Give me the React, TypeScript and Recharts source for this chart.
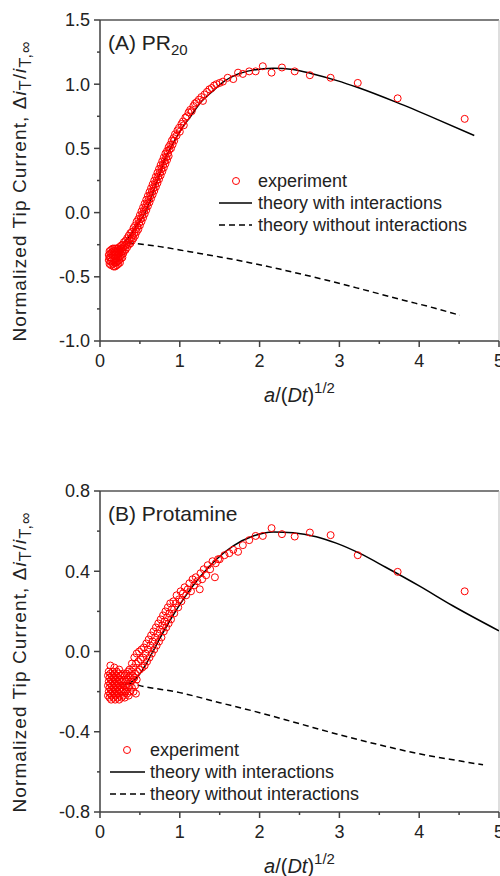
import React from 'react'
import { ComposedChart, Scatter, Line, XAxis, YAxis, Legend, ReferenceLine } from 'recharts'

type Pt = [number, number]

// axis ticks (majors get a label, the rest are minor ticks)
const xTicks = [0, 0.5, 1, 1.5, 2, 2.5, 3, 3.5, 4, 4.5, 5]
const xMajor = [0, 1, 2, 3, 4, 5]
const yTicksA = [-1, -0.75, -0.5, -0.25, 0, 0.25, 0.5, 0.75, 1, 1.25, 1.5]
const yMajorA = [-1, -0.5, 0, 0.5, 1, 1.5]
const yTicksB = [-0.8, -0.6, -0.4, -0.2, 0, 0.2, 0.4, 0.6, 0.8]
const yMajorB = [-0.8, -0.4, 0, 0.4, 0.8]

const legendLabels = ['experiment', 'theory with interactions', 'theory without interactions']

// (A) PR20
const expA: Pt[] = [
  // dense cloud at small a/(Dt)^1/2
  [0.11, -0.33], [0.11, -0.37], [0.12, -0.30], [0.12, -0.35], [0.12, -0.40], [0.13, -0.32], [0.13, -0.38],
  [0.14, -0.29], [0.14, -0.35], [0.14, -0.41], [0.15, -0.31], [0.15, -0.37], [0.16, -0.28], [0.16, -0.33],
  [0.16, -0.40], [0.17, -0.30], [0.17, -0.36], [0.17, -0.42], [0.18, -0.28], [0.18, -0.33], [0.18, -0.39],
  [0.19, -0.30], [0.19, -0.36], [0.19, -0.42], [0.20, -0.28], [0.20, -0.33], [0.20, -0.39], [0.21, -0.30],
  [0.21, -0.36], [0.21, -0.41], [0.22, -0.28], [0.22, -0.33], [0.22, -0.38], [0.23, -0.30], [0.23, -0.35],
  [0.23, -0.40], [0.24, -0.27], [0.24, -0.32], [0.24, -0.37], [0.25, -0.29], [0.25, -0.34], [0.25, -0.39],
  [0.26, -0.26], [0.26, -0.31], [0.26, -0.36], [0.27, -0.28], [0.27, -0.33], [0.28, -0.25], [0.28, -0.30],
  [0.28, -0.35], [0.29, -0.27], [0.29, -0.32],
  // rising band
  [0.30, -0.23], [0.30, -0.30], [0.31, -0.26], [0.32, -0.22], [0.32, -0.29], [0.33, -0.25], [0.34, -0.20],
  [0.34, -0.27], [0.35, -0.23], [0.36, -0.18], [0.36, -0.25], [0.37, -0.21], [0.38, -0.16], [0.38, -0.24],
  [0.39, -0.20], [0.40, -0.15], [0.40, -0.22], [0.41, -0.18], [0.42, -0.12], [0.42, -0.20], [0.43, -0.16],
  [0.44, -0.10], [0.44, -0.18], [0.45, -0.13], [0.46, -0.07], [0.46, -0.15], [0.47, -0.11], [0.48, -0.05],
  [0.48, -0.13], [0.49, -0.08], [0.50, -0.02], [0.50, -0.10], [0.51, -0.05], [0.52, 0.01], [0.52, -0.07],
  [0.53, -0.02], [0.54, 0.04], [0.54, -0.04], [0.55, 0.01], [0.56, 0.07], [0.56, -0.01], [0.57, 0.04],
  [0.58, 0.10], [0.58, 0.02], [0.59, 0.07], [0.60, 0.13], [0.60, 0.05], [0.61, 0.10], [0.62, 0.16],
  [0.62, 0.08], [0.63, 0.13], [0.64, 0.19], [0.64, 0.11], [0.65, 0.16], [0.66, 0.22], [0.66, 0.14],
  [0.67, 0.19], [0.68, 0.25], [0.68, 0.17], [0.69, 0.22], [0.70, 0.28], [0.70, 0.20], [0.71, 0.25],
  [0.72, 0.31], [0.72, 0.23], [0.73, 0.28], [0.74, 0.34], [0.74, 0.26], [0.75, 0.31], [0.76, 0.37],
  [0.76, 0.29], [0.77, 0.34], [0.78, 0.40], [0.78, 0.32], [0.79, 0.37], [0.80, 0.43], [0.80, 0.35],
  [0.81, 0.40], [0.82, 0.46], [0.82, 0.38], [0.83, 0.43], [0.84, 0.48], [0.84, 0.41], [0.85, 0.46],
  [0.86, 0.51], [0.86, 0.44], [0.87, 0.49], [0.88, 0.53], [0.89, 0.50], [0.90, 0.56], [0.91, 0.53],
  [0.92, 0.58], [0.93, 0.56], [0.94, 0.61], [0.96, 0.60], [0.97, 0.64], [0.99, 0.66], [1.00, 0.63],
  [1.02, 0.69], [1.04, 0.71], [1.05, 0.68], [1.07, 0.74], [1.09, 0.75], [1.11, 0.78], [1.13, 0.80],
  [1.15, 0.79], [1.17, 0.83], [1.19, 0.85], [1.21, 0.86], [1.24, 0.88], [1.27, 0.90], [1.29, 0.87],
  [1.31, 0.92], [1.34, 0.94], [1.37, 0.96], [1.40, 0.97], [1.43, 0.99], [1.46, 1.00], [1.50, 1.01],
  // sparse points
  [1.54, 1.02], [1.60, 1.05], [1.67, 1.04], [1.73, 1.09], [1.79, 1.08], [1.87, 1.10], [1.95, 1.10],
  [2.04, 1.14], [2.15, 1.09], [2.28, 1.13], [2.44, 1.10], [2.63, 1.07], [2.89, 1.05], [3.23, 1.01],
  [3.73, 0.89], [4.57, 0.73],
]
const theoryA: Pt[] = [
  [0.31, -0.23], [0.40, -0.16], [0.47, -0.09], [0.54, -0.03], [0.62, 0.08], [0.69, 0.2], [0.75, 0.3],
  [0.81, 0.41], [0.88, 0.5], [0.96, 0.59], [1.04, 0.67], [1.125, 0.74], [1.25, 0.85], [1.42, 0.95],
  [1.55, 1.02], [1.71, 1.075], [1.92, 1.11], [2.17, 1.125], [2.42, 1.115], [2.67, 1.08], [2.96, 1.03],
  [3.25, 0.97], [3.71, 0.86], [4.21, 0.73], [4.69, 0.6],
]
const noInterA: Pt[] = [
  [0.35, -0.235], [0.75, -0.265], [1.125, -0.305], [1.5, -0.345], [1.875, -0.39], [2.25, -0.44],
  [2.83, -0.525], [3.3, -0.6], [3.79, -0.68], [4.2, -0.745], [4.51, -0.8],
]

// (B) Protamine
const expB: Pt[] = [
  // dense cloud at small a/(Dt)^1/2
  [0.10, -0.12], [0.10, -0.17], [0.10, -0.22], [0.11, -0.10], [0.11, -0.15], [0.11, -0.20], [0.12, -0.13],
  [0.12, -0.18], [0.12, -0.23], [0.13, -0.11], [0.13, -0.16], [0.13, -0.21], [0.14, -0.14], [0.14, -0.19],
  [0.14, -0.24], [0.15, -0.12], [0.15, -0.17], [0.15, -0.22], [0.16, -0.10], [0.16, -0.15], [0.16, -0.20],
  [0.17, -0.13], [0.17, -0.18], [0.17, -0.23], [0.18, -0.11], [0.18, -0.16], [0.18, -0.21], [0.19, -0.14],
  [0.19, -0.19], [0.19, -0.24], [0.20, -0.12], [0.20, -0.17], [0.20, -0.22], [0.21, -0.10], [0.21, -0.15],
  [0.21, -0.20], [0.22, -0.13], [0.22, -0.18], [0.22, -0.23], [0.23, -0.11], [0.23, -0.16], [0.23, -0.21],
  [0.24, -0.14], [0.24, -0.19], [0.24, -0.24], [0.25, -0.12], [0.25, -0.17], [0.25, -0.22], [0.26, -0.15],
  [0.26, -0.20], [0.27, -0.12], [0.27, -0.18], [0.27, -0.23], [0.28, -0.15], [0.28, -0.20], [0.29, -0.11],
  [0.29, -0.17], [0.29, -0.22], [0.30, -0.14], [0.30, -0.19], [0.31, -0.12], [0.31, -0.17], [0.31, -0.23],
  [0.32, -0.15], [0.32, -0.20], [0.33, -0.11], [0.33, -0.17], [0.34, -0.14], [0.34, -0.21], [0.35, -0.10],
  [0.35, -0.18], [0.36, -0.13], [0.36, -0.22], [0.37, -0.09], [0.37, -0.17], [0.38, -0.12], [0.38, -0.20],
  [0.39, -0.15], [0.40, -0.10], [0.40, -0.18], [0.41, -0.14], [0.42, -0.20], [0.43, -0.13], [0.44, -0.17],
  [0.45, -0.21], [0.46, -0.14], [0.13, -0.07], [0.18, -0.08], [0.24, -0.09],
  // rising band
  [0.40, -0.06], [0.41, -0.12], [0.42, -0.08], [0.43, -0.03], [0.44, -0.11], [0.45, -0.06], [0.46, -0.01],
  [0.47, -0.10], [0.48, -0.05], [0.49, 0.00], [0.50, -0.09], [0.51, -0.04], [0.52, 0.01], [0.53, -0.08],
  [0.54, -0.03], [0.55, 0.02], [0.56, -0.07], [0.57, -0.01], [0.58, 0.04], [0.59, -0.05], [0.60, 0.01],
  [0.61, 0.06], [0.62, -0.03], [0.63, 0.03], [0.64, 0.08], [0.65, -0.01], [0.66, 0.05], [0.67, 0.10],
  [0.68, 0.01], [0.69, 0.07], [0.70, 0.12], [0.71, 0.03], [0.72, 0.09], [0.73, 0.14], [0.74, 0.05],
  [0.75, 0.11], [0.76, 0.16], [0.77, 0.07], [0.78, 0.13], [0.79, 0.18], [0.80, 0.10], [0.81, 0.15],
  [0.82, 0.20], [0.83, 0.12], [0.84, 0.17], [0.85, 0.22], [0.86, 0.14], [0.87, 0.19], [0.88, 0.24],
  [0.89, 0.16], [0.90, 0.21], [0.92, 0.25], [0.93, 0.19], [0.95, 0.24], [0.96, 0.28], [0.98, 0.22],
  [0.99, 0.26], [1.01, 0.30], [1.02, 0.25], [1.04, 0.29], [1.06, 0.32], [1.08, 0.28], [1.10, 0.31],
  [1.12, 0.34], [1.14, 0.30], [1.16, 0.36], [1.18, 0.33], [1.20, 0.37], [1.22, 0.35], [1.25, 0.31],
  [1.26, 0.39], [1.28, 0.36], [1.30, 0.41], [1.33, 0.38], [1.35, 0.43], [1.38, 0.41], [1.41, 0.45],
  [1.44, 0.37], [1.45, 0.44], [1.48, 0.46], [1.50, 0.46],
  // sparse points
  [1.56, 0.48], [1.62, 0.49], [1.67, 0.507], [1.73, 0.497], [1.79, 0.53], [1.87, 0.555], [1.95, 0.576],
  [2.04, 0.576], [2.15, 0.615], [2.28, 0.585], [2.44, 0.573], [2.63, 0.593], [2.89, 0.58], [3.23, 0.48],
  [3.73, 0.397], [4.57, 0.3],
]
const theoryB: Pt[] = [
  [0.31, -0.163], [0.38, -0.155], [0.45, -0.135], [0.52, -0.1], [0.58, -0.06], [0.65, -0.01], [0.75, 0.065],
  [0.9, 0.17], [1.06, 0.27], [1.25, 0.37], [1.46, 0.46], [1.67, 0.527], [1.92, 0.576], [2.17, 0.596],
  [2.42, 0.592], [2.71, 0.572], [2.96, 0.54], [3.25, 0.49], [3.58, 0.42], [4.0, 0.327], [4.42, 0.228],
  [5.0, 0.103],
]
const noInterB: Pt[] = [
  [0.35, -0.155], [0.5, -0.17], [1.0, -0.205], [1.5, -0.255], [2.0, -0.305], [2.5, -0.36], [3.0, -0.415],
  [3.5, -0.465], [4.0, -0.51], [4.5, -0.545], [4.8, -0.565],
]

const FONT = '"Liberation Sans", Arial, sans-serif'
const RED = '#ff0000'
const AXIS = '#404040'

const toRows = (pts: Pt[]) => pts.map(([x, y]) => ({ x, y }))
const isIn = (list: number[], v: number) => list.some((m) => Math.abs(m - v) < 1e-9)

const ringShape = (p: any) => (
  <circle cx={p.cx} cy={p.cy} r={3.5} fill="none" stroke={RED} strokeWidth={1} />
)

const yTick = (majors: number[]) => (props: any) => {
  const { x, y, payload } = props
  const major = isIn(majors, payload.value)
  return (
    <g>
      <line x1={x - (major ? 6 : 3)} x2={x} y1={y} y2={y} stroke={AXIS} strokeWidth={1.5} />
      {major && (
        <text x={x - 10} y={y} dy="0.35em" textAnchor="end" fontSize={18} fontFamily={FONT} fill="#222">
          {payload.value.toFixed(1)}
        </text>
      )}
    </g>
  )
}

const xTick = (props: any) => {
  const { x, y, payload } = props
  const major = isIn(xMajor, payload.value)
  return (
    <g>
      <line x1={x} x2={x} y1={y} y2={y + (major ? 6 : 3)} stroke={AXIS} strokeWidth={1.5} />
      {major && (
        <text x={x} y={y + 26} textAnchor="middle" fontSize={18} fontFamily={FONT} fill="#222">
          {payload.value}
        </text>
      )}
    </g>
  )
}

const XTitle = (p: any) => {
  const vb = p.viewBox || { x: 100, y: 341, width: 399 }
  return (
    <text x={vb.x + vb.width / 2} y={vb.y + 61} textAnchor="middle" fontSize={20} fontFamily={FONT} fill="#222">
      <tspan fontStyle="italic">a</tspan>/(<tspan fontStyle="italic">Dt</tspan>)
      <tspan fontSize={15} dy={-9}>1/2</tspan>
    </text>
  )
}

// y title plus the panel name inside the plot
const yTitle = (name: string, sub?: string) => (p: any) => {
  const vb = p.viewBox || { x: 0, y: 20, width: 100, height: 321 }
  const cx = 26
  const cy = vb.y + vb.height / 2 + 11
  return (
    <g>
      <text x={cx} y={cy} transform={`rotate(-90, ${cx}, ${cy})`} textAnchor="middle" fontSize={19}
        fontFamily={FONT} fill="#222" textLength={300} lengthAdjust="spacing">
        Normalized Tip Current, Δ<tspan fontStyle="italic">i</tspan>
        <tspan fontSize={16} dy={5}>T</tspan>
        <tspan dy={-5}>/</tspan>
        <tspan fontStyle="italic">i</tspan>
        <tspan fontSize={16} dy={5}>T,∞</tspan>
      </text>
      <text x={vb.x + vb.width + 8} y={vb.y + 30} fontSize={21} fontFamily={FONT} fill="#222">
        {name}
        {sub && <tspan fontSize={15} dy={5}>{sub}</tspan>}
      </text>
    </g>
  )
}

const LegendBox = ({ sx, lx1, lx2, tx }: { sx: number; lx1: number; lx2: number; tx: number }) => (
  <svg width={290} height={70} style={{ display: 'block' }}>
    <circle cx={sx} cy={13} r={3.5} fill="none" stroke={RED} strokeWidth={1} />
    <line x1={lx1} x2={lx2} y1={35} y2={35} stroke="#000" strokeWidth={1.5} />
    <line x1={lx1} x2={lx2} y1={57} y2={57} stroke="#000" strokeWidth={1.5} strokeDasharray="6 4" />
    {legendLabels.map((t, i) => (
      <text key={t} x={tx} y={13 + i * 22} dy="0.35em" fontSize={18} fontFamily={FONT} fill="#222">
        {t}
      </text>
    ))}
  </svg>
)

interface PanelProps {
  exp: Pt[]
  theory: Pt[]
  noInter: Pt[]
  yDomain: [number, number]
  yTicks: number[]
  yMajor: number[]
  title: string
  sub?: string
  height: number
  legendPos: { left: number; top: number }
  legendGeom: { sx: number; lx1: number; lx2: number; tx: number }
}

const Panel = ({ exp, theory, noInter, yDomain, yTicks, yMajor, title, sub, height, legendPos, legendGeom }: PanelProps) => (
  <ComposedChart width={500} height={height} margin={{ top: 20, right: 1, bottom: 0, left: 0 }}>
    <XAxis dataKey="x" type="number" domain={[0, 5]} ticks={xTicks} interval={0} allowDataOverflow
      tick={xTick} tickSize={0} tickMargin={0} tickLine={false} height={height - 341}
      axisLine={{ stroke: AXIS, strokeWidth: 1.5 }} label={{ content: XTitle }} />
    <YAxis type="number" domain={yDomain} ticks={yTicks} interval={0} allowDataOverflow width={100}
      tick={yTick(yMajor)} tickSize={0} tickMargin={0} tickLine={false}
      axisLine={{ stroke: AXIS, strokeWidth: 1.5 }} label={{ content: yTitle(title, sub) }} />
    <ReferenceLine y={yDomain[1]} stroke="#555" strokeWidth={1.5} />
    <ReferenceLine x={5} stroke="#bdbdbd" strokeWidth={1} />
    <Scatter data={toRows(exp)} dataKey="y" shape={ringShape} isAnimationActive={false} />
    <Line data={toRows(noInter)} dataKey="y" type="monotone" stroke="#000" strokeWidth={1.5}
      strokeDasharray="6 4" dot={false} activeDot={false} isAnimationActive={false} />
    <Line data={toRows(theory)} dataKey="y" type="monotone" stroke="#000" strokeWidth={1.5}
      dot={false} activeDot={false} isAnimationActive={false} />
    <Legend layout="vertical" align="center" verticalAlign="middle"
      wrapperStyle={{ left: legendPos.left, top: legendPos.top, width: 290 }}
      content={() => <LegendBox {...legendGeom} />} />
  </ComposedChart>
)

export default function App() {
  return (
    <div style={{ position: 'absolute', left: 0, top: 0, width: 500, height: 876, background: '#fff' }}>
      <div style={{ position: 'absolute', left: 0, top: 0 }}>
        <Panel exp={expA} theory={theoryA} noInter={noInterA} yDomain={[-1, 1.5]} yTicks={yTicksA}
          yMajor={yMajorA} title="(A) PR" sub="20" height={420} legendPos={{ left: 212, top: 168 }}
          legendGeom={{ sx: 24, lx1: 7, lx2: 40, tx: 46 }} />
      </div>
      <div style={{ position: 'absolute', left: 0, top: 471 }}>
        <Panel exp={expB} theory={theoryB} noInter={noInterB} yDomain={[-0.8, 0.8]} yTicks={yTicksB}
          yMajor={yMajorB} title="(B) Protamine" height={405} legendPos={{ left: 100, top: 266 }}
          legendGeom={{ sx: 27, lx1: 10, lx2: 45, tx: 50 }} />
      </div>
    </div>
  )
}
